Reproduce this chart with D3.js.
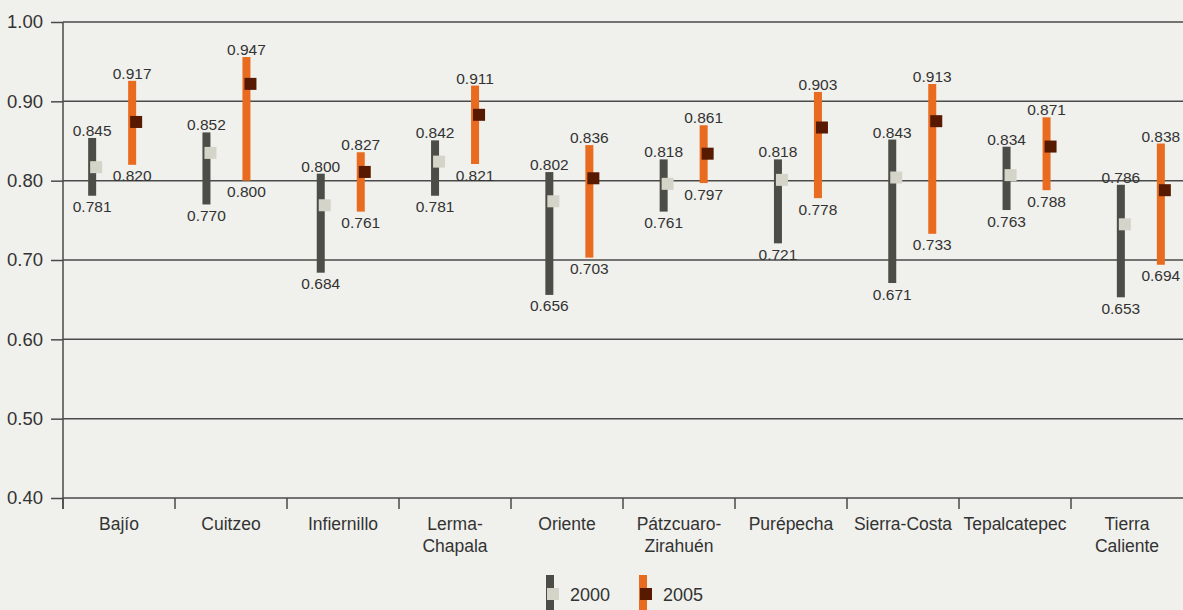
<!DOCTYPE html>
<html>
<head>
<meta charset="utf-8">
<script src="https://cdn.jsdelivr.net/npm/d3@7"></script>
<style>
  html, body { margin: 0; padding: 0; background: #f0f0ec; }
  svg { display: block; }
  text { font-family: "Liberation Sans", Arial, sans-serif; fill: #333; }
</style>
</head>
<body>
<svg id="chart" width="1183" height="610"></svg>
<script>
// ---- data ----
const categories = ["Bajío","Cuitzeo","Infiernillo","Lerma-Chapala","Oriente","Pátzcuaro-Zirahuén","Purépecha","Sierra-Costa","Tepalcatepec","Tierra Caliente"];
const categoryLines = [["Bajío"],["Cuitzeo"],["Infiernillo"],["Lerma-","Chapala"],["Oriente"],["Pátzcuaro-","Zirahuén"],["Purépecha"],["Sierra-Costa"],["Tepalcatepec"],["Tierra","Caliente"]];
const min2000  = [0.781,0.770,0.684,0.781,0.656,0.761,0.721,0.671,0.763,0.653];
const max2000  = [0.845,0.852,0.800,0.842,0.802,0.818,0.818,0.843,0.834,0.786];
const mean2000 = [0.817,0.835,0.769,0.824,0.774,0.796,0.801,0.804,0.807,0.745];
const min2005  = [0.820,0.800,0.761,0.821,0.703,0.797,0.778,0.733,0.788,0.694];
const max2005  = [0.917,0.947,0.827,0.911,0.836,0.861,0.903,0.913,0.871,0.838];
const mean2005 = [0.874,0.922,0.811,0.883,0.803,0.834,0.867,0.875,0.843,0.788];
const yTicks = [0.40,0.50,0.60,0.70,0.80,0.90,1.00];
const seriesNames = ["2000","2005"];

// ---- styles ----
const colBar = {"2000":"#4d4d48","2005":"#e96b1f"};
const colMark = {"2000":"#d5d4c9","2005":"#571a00"};
const lineCol = "#4a4a4a";

const svg = d3.select("#chart");
svg.append("rect").attr("width",1183).attr("height",610).attr("fill","#f0f0ec");

const y = d3.scaleLinear().domain([0.40,1.00]).range([498,22]);
const xAxisScale = d3.scaleBand().domain(categories).range([63,1183]);
const xMarks = d3.scaleBand().domain(categories).range([55,1198]);
const offset = {"2000":-20,"2005":20};

// gridlines
svg.append("g").selectAll("line").data(yTicks).join("line")
  .attr("x1",63).attr("x2",1183)
  .attr("y1",d=>y(d)).attr("y2",d=>y(d))
  .attr("stroke",lineCol).attr("stroke-width",1.5);

// y axis
const yAxis = svg.append("g").attr("transform","translate(63,0)")
  .call(d3.axisLeft(y).tickValues(yTicks).tickFormat(d3.format(".2f")).tickSize(12).tickPadding(8));
yAxis.select(".domain").remove();
yAxis.selectAll(".tick line").attr("stroke",lineCol).attr("stroke-width",1.5);
yAxis.selectAll(".tick text").attr("font-size",18.5).attr("fill","#333")
  .style("font-family","'Liberation Sans', Arial, sans-serif");
svg.append("line").attr("x1",63).attr("x2",63).attr("y1",y(1.0)).attr("y2",509)
  .attr("stroke",lineCol).attr("stroke-width",1.5);

// x axis ticks at band boundaries
const bounds = categories.map(c=>xAxisScale(c));
svg.append("g").selectAll("line").data(bounds).join("line")
  .attr("x1",d=>d).attr("x2",d=>d).attr("y1",y(0.40)).attr("y2",509)
  .attr("stroke",lineCol).attr("stroke-width",1.5);

// category labels
const catG = svg.append("g").selectAll("text").data(categories).join("text")
  .attr("x",c=>xAxisScale(c)+xAxisScale.bandwidth()/2)
  .attr("y",530)
  .attr("text-anchor","middle").attr("font-size",17.5);
catG.each(function(c,i){
  const t = d3.select(this);
  categoryLines[i].forEach((ln,j)=>{
    t.append("tspan").attr("x",xAxisScale(c)+xAxisScale.bandwidth()/2)
      .attr("dy", j===0 ? 0 : 22).text(ln);
  });
});

// series
const series = [
  {name:"2000", lo:min2000, hi:max2000, mean:mean2000},
  {name:"2005", lo:min2005, hi:max2005, mean:mean2005}
];
const barW = 8, capExt = 7, sq = 12;
const fmt = d3.format(".3f");
series.forEach(s=>{
  const g = svg.append("g");
  const cx = c => xMarks(c)+xMarks.bandwidth()/2+offset[s.name];
  g.selectAll("rect.bar").data(categories).join("rect").attr("class","bar")
    .attr("x",c=>cx(c)-barW/2).attr("width",barW)
    .attr("y",(c,i)=>y(s.hi[i])-capExt)
    .attr("height",(c,i)=>y(s.lo[i])-y(s.hi[i])+capExt)
    .attr("fill",colBar[s.name]);
  g.selectAll("rect.mk").data(categories).join("rect").attr("class","mk")
    .attr("x",c=>cx(c)+4-sq/2).attr("width",sq)
    .attr("y",(c,i)=>y(s.mean[i])-sq/2).attr("height",sq)
    .attr("fill",colMark[s.name]);
  g.selectAll("text.hi").data(categories).join("text").attr("class","hi")
    .attr("x",c=>cx(c)).attr("y",(c,i)=>y(s.hi[i])-9)
    .attr("text-anchor","middle").attr("font-size",15.5)
    .text((c,i)=>fmt(s.hi[i]));
  g.selectAll("text.lo").data(categories).join("text").attr("class","lo")
    .attr("x",c=>cx(c)).attr("y",(c,i)=>y(s.lo[i])+16.5)
    .attr("text-anchor","middle").attr("font-size",15.5)
    .text((c,i)=>fmt(s.lo[i]));
});

// legend
const legX = {"2000":550,"2005":643};
const leg = svg.append("g");
seriesNames.forEach(n=>{
  leg.append("rect").attr("x",legX[n]-barW/2).attr("y",575).attr("width",barW).attr("height",40).attr("fill",colBar[n]);
  leg.append("rect").attr("x",legX[n]+3-sq/2).attr("y",588).attr("width",sq).attr("height",sq).attr("fill",colMark[n]);
  leg.append("text").attr("x",legX[n]+20).attr("y",601).attr("font-size",18).text(n);
});
</script>
</body>
</html>
